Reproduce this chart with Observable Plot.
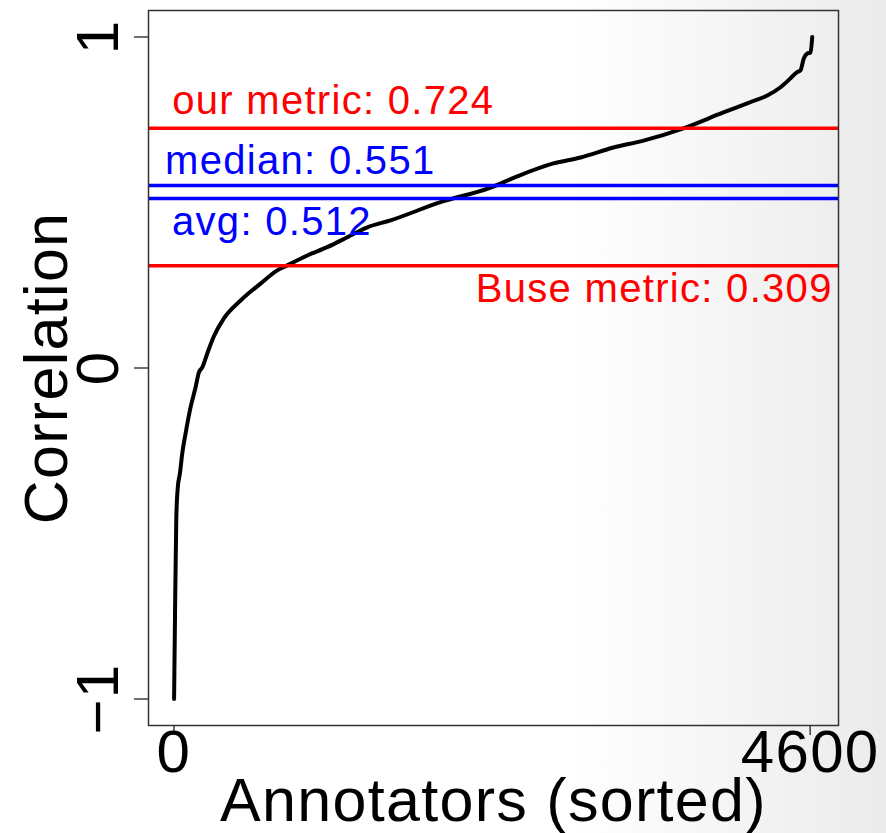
<!DOCTYPE html>
<html>
<head>
<meta charset="utf-8">
<script src="https://cdn.jsdelivr.net/npm/d3@7"></script>
<script src="https://cdn.jsdelivr.net/npm/@observablehq/plot@0.6"></script>
<style>
  html, body { margin: 0; padding: 0; }
  body {
    width: 886px; height: 833px; overflow: hidden;
    background: linear-gradient(to right, #ffffff 0%, #ffffff 64%, #f4f4f4 84%, #ebebeb 100%);
  }
  #chart svg { background: transparent; }
  #chart svg text { letter-spacing: 1.3px; }
</style>
</head>
<body>
<div id="chart"></div>
<script>
// Per-annotator correlation, annotators sorted by correlation (rank, value)
const rank = [1, 7, 17, 28, 43, 60, 84, 120, 156, 180, 205, 241, 288, 361, 482, 626, 747, 819,
  964, 1108, 1253, 1398, 1566, 1927, 2289, 2482, 2744, 2940, 3178, 3395, 3684, 3973, 4168,
  4290, 4386, 4458, 4506, 4530, 4554, 4579, 4603, 4615];
const corr = [-1.0, -0.772, -0.452, -0.36, -0.319, -0.258, -0.198, -0.119, -0.059, -0.014, 0.002,
  0.044, 0.095, 0.150, 0.204, 0.255, 0.295, 0.310, 0.340, 0.365, 0.395, 0.425, 0.446, 0.501,
  0.545, 0.579, 0.618, 0.636, 0.666, 0.687, 0.724, 0.772, 0.803, 0.823, 0.848, 0.875, 0.894,
  0.899, 0.935, 0.950, 0.953, 1.0];

// Reference levels
const refNames = ["our metric", "median", "avg", "Buse metric"];
const refValues = [0.724, 0.551, 0.512, 0.309];
const refColors = ["red", "blue", "blue", "red"];

// Axis ticks
const xTicks = [0, 4600];
const yTicks = [-1, 0, 1];
const xLabel = "Annotators (sorted)";
const yLabel = "Correlation";

const curve = rank.map((r, i) => ({rank: r, corr: corr[i]}));
const refs = refNames.map((name, i) => ({name, value: refValues[i], color: refColors[i],
  text: `${name}: ${refValues[i].toFixed(3)}`}));

const font = "'Liberation Sans', Arial, Helvetica, sans-serif";
const annot = {fontSize: 40, lineAnchor: "bottom", fill: "color"};

const chart = Plot.plot({
  width: 886,
  height: 833,
  marginLeft: 148,
  marginRight: 48,
  marginTop: 10,
  marginBottom: 108,
  style: {fontFamily: font, background: "transparent", overflow: "visible"},
  x: {domain: [-184, 4805]},
  y: {domain: [-1.08, 1.08]},
  color: {type: "identity"},
  marks: [
    Plot.axisY({ticks: yTicks, tickSize: 14, tickFormat: () => "", label: null, stroke: "#222", strokeWidth: 1.3}),
    Plot.axisX({ticks: xTicks, tickSize: 10, tickFormat: () => "", label: null, stroke: "#222", strokeWidth: 1.3}),
    Plot.line(curve, {x: "rank", y: "corr", curve: "monotone-x", stroke: "black", strokeWidth: 4,
      strokeLinejoin: "round", strokeLinecap: "round"}),
    Plot.ruleY(refs, {y: "value", stroke: "color", strokeWidth: 3.5}),
    Plot.text([refs[0]], {...annot, x: () => -13, y: "value", text: "text", textAnchor: "start", dy: -14}),
    Plot.text([refs[1]], {...annot, x: () => -64, y: "value", text: "text", textAnchor: "start", dy: -12}),
    Plot.text([refs[2]], {...annot, x: () => -14, y: "value", text: "text", textAnchor: "start", dy: 36}),
    Plot.text([refs[3]], {...annot, x: () => 4763, y: "value", text: "text", textAnchor: "end", dy: 36}),
    Plot.frame({stroke: "#333", strokeWidth: 1.5}),
    // tick labels
    Plot.text(yTicks, {y: d => d, text: d => d < 0 ? `\u2212${Math.abs(d)}` : `${d}`, frameAnchor: "left",
      rotate: -90, lineAnchor: "bottom", textAnchor: "middle", dx: -31, fontSize: 60, fill: "black"}),
    Plot.text(xTicks, {x: d => d, text: d => `${d}`, frameAnchor: "bottom",
      lineAnchor: "bottom", textAnchor: "middle", dy: 46, fontSize: 60, fill: "black"}),
    // axis titles
    Plot.text([yLabel], {text: d => d, frameAnchor: "left", rotate: -90, lineAnchor: "bottom",
      textAnchor: "middle", dx: -82, fontSize: 61, fill: "black"}),
    Plot.text([xLabel], {text: d => d, frameAnchor: "bottom", lineAnchor: "bottom",
      textAnchor: "middle", dy: 95, fontSize: 61, fill: "black"})
  ]
});

document.getElementById("chart").appendChild(chart);
</script>
</body>
</html>
